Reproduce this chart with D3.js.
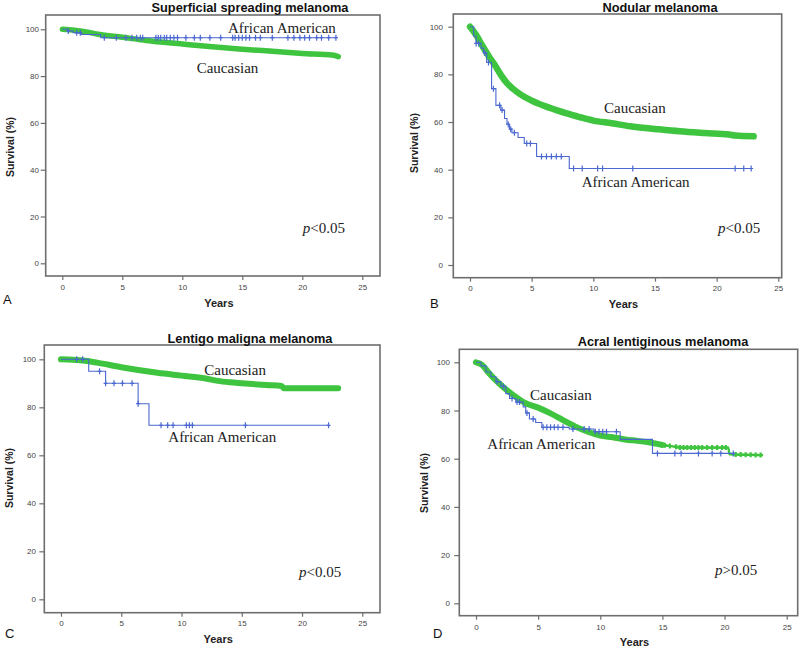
<!DOCTYPE html>
<html><head><meta charset="utf-8">
<script src="https://cdn.jsdelivr.net/npm/d3@7"></script>
<style>body{margin:0;background:#fff}svg{display:block}</style>
</head><body>
<svg id="c" width="800" height="649"></svg>
<script>
// ---------- DATA ----------
const panelTitles = ["Superficial spreading melanoma","Nodular melanoma","Lentigo maligna melanoma","Acral lentiginous melanoma"];
const panelLetters = ["A","B","C","D"];
const pValues = ["<0.05","<0.05","<0.05",">0.05"];
const xTicks = [0,5,10,15,20,25];
const yTicks = [0,20,40,60,80,100];

// Caucasian curves [years, survival %]
const ssmCaucasian = [[0,100],[1,99.6],[2,98.9],[3,97.9],[5,96.6],[7,95.2],[10,93.7],[12.5,92.5],[15,91.5],[17.5,90.6],[20,89.7],[22.5,89],[23,88.3]];
const nmCaucasian = [[0,100],[0.5,96.5],[1,92],[1.5,87.8],[2,84],[2.5,79.8],[3,76.3],[3.5,73.9],[4,71.9],[5,69],[6,66.8],[7,65],[8,63.4],[9,61.9],[10,60.6],[11.5,59.5],[13,58.2],[15,57.1],[17,56.1],[19,55.4],[21,54.8],[21.5,54.3],[23,54]];
const lmmCaucasian = [[0,100],[1,99.8],[2,99.4],[3,98.6],[5,96.7],[8,94.4],[10,93.2],[12,92],[13,91],[14,90.4],[15,90],[17,89.3],[18.3,88.9],[18.5,87.9],[23,87.9]];
const almCaucasian = [[0,100],[0.5,98.9],[1,95.8],[2,90.6],[3,86.4],[4,83],[5,81.2],[6,78.8],[7,76],[8,73.3],[9,71.2],[10,69.6],[11,68.9],[12,68],[13,67.4],[14,66.7],[15,65.7],[16,65],[16.5,64.6],[20.3,64.6],[20.4,61.8],[23,61.5]];

// African American step curves [years, survival %]
const ssmAfrican = [[0,100],[0.4,99.3],[0.9,98.5],[1.6,97.8],[3.2,96.4],[22.9,96.4]];
const nmAfrican = [[0,100],[0.3,96],[0.5,93],[0.9,91],[1.1,89],[1.35,85],[1.75,74],[2.1,67],[2.5,65],[2.8,61.5],[3.0,59],[3.2,57],[3.4,55.5],[3.9,53.5],[4.4,51],[5.4,45.5],[8.05,40.5],[22.9,40.5]];
const lmmAfrican = [[0,100],[2.3,95],[3.7,90],[6.4,81.5],[7.3,72.5],[22.2,72.5]];
const almAfrican = [[0,100],[0.4,98.5],[0.8,96],[1.2,94],[1.6,92],[2.0,90],[2.4,87],[2.7,85],[3.2,83.5],[3.8,81.5],[4.0,79],[4.3,76.5],[4.8,75],[5.3,73],[7.5,72.3],[9.5,71.2],[11.6,68],[14.2,62.2],[20.8,62.2]];

// African American censor times (years)
const ssmAfricanCensor = [0.5,1.2,1.5,3.5,4.5,5.3,5.8,6.2,6.5,6.7,7.8,8.0,8.2,8.5,8.7,9.0,9.3,9.6,10.3,11.0,11.5,12.3,13.2,14.2,14.4,14.7,15.0,15.3,15.6,16.1,16.5,17.5,18.8,19.3,19.8,20.2,20.6,21.2,21.6,22.2,22.8];
const nmAfricanCensor = [0.5,0.7,1.2,1.5,1.9,2.4,2.6,3.1,3.3,3.6,4.6,4.9,5.8,6.2,6.6,7.0,7.4,8.4,9.1,10.35,10.75,13.2,21.5,22.2,22.8];
const lmmAfricanCensor = [1.3,1.8,3.2,3.7,4.4,5.1,5.9,6.4,8.3,8.85,9.3,10.4,10.65,10.9,15.3,22.2];
const almAfricanCensor = [1.7,2.2,2.9,3.3,3.5,4.1,4.6,5.4,5.7,6.0,6.3,6.6,7.0,7.8,8.7,9.1,9.6,9.9,10.2,10.5,11.3,14.6,16.0,16.5,17.9,19.0,19.7,20.7];
// Caucasian censor marks visible in the sparse tail (ALM)
const almCaucasianCensor = [15.2,15.6,16.1,16.4,16.7,17.0,17.3,17.6,17.9,18.2,18.6,19.0,19.4,19.8,20.1,20.9,21.3,21.7,22.1,22.5,22.9];

// ---------- LAYOUT ----------
const panels = [
  {cau:ssmCaucasian, afr:ssmAfrican, cens:ssmAfricanCensor, ccens:[], thickTo:23, gw:5.5,
   frame:[45.7,15,380,276], xr:[62.3,362.3], yr:[263.3,29.3],
   title:[250,12], letter:[3,304], ylab:[14,147], xlabY:289.5, yearsY:306.5, ytEnd:39,
   cLab:[196.7,72.7], aLab:[228,33], pLab:[302.7,233]},
  {cau:nmCaucasian, afr:nmAfrican, cens:nmAfricanCensor, ccens:[], thickTo:23, gw:6.5,
   frame:[453.3,14,781.7,277.7], xr:[470,778.3], yr:[265,26.7],
   title:[660,11.5], letter:[430,308], ylab:[418,143], xlabY:291, yearsY:308, ytEnd:443,
   cLab:[604,113], aLab:[581.7,187], pLab:[718,233]},
  {cau:lmmCaucasian, afr:lmmAfrican, cens:lmmAfricanCensor, ccens:[], thickTo:23, gw:6,
   frame:[44.3,345,380,612.7], xr:[61,362.3], yr:[599.3,359.3],
   title:[250,343], letter:[5,638], ylab:[13,478], xlabY:626.5, yearsY:642.5, ytEnd:36,
   cLab:[204.3,375], aLab:[168.3,441.7], pLab:[299,576.7]},
  {cau:almCaucasian, afr:almAfrican, cens:almAfricanCensor, ccens:almCaucasianCensor, thickTo:15, gw:6,
   frame:[459.3,349.3,797.7,615.7], xr:[476,786.7], yr:[603.3,362.3],
   title:[663,345.5], letter:[433,638], ylab:[428,483], xlabY:630, yearsY:646, ytEnd:450,
   cLab:[530,400], aLab:[487.3,449.3], pLab:[715,575]}
];

const GREEN = "#3ec43e", BLUE = "#4a68d0", FRAME = "#6e6e6e", TICKTXT = "#444";
const SANS = "Arial, 'Liberation Sans', sans-serif";
const svg = d3.select("#c");

panels.forEach((p, i) => {
  const g = svg.append("g");
  const x = d3.scaleLinear().domain([0,25]).range(p.xr);
  const y = d3.scaleLinear().domain([0,100]).range(p.yr);
  const [fx0, fy0, fx1, fy1] = p.frame;

  // frame
  g.append("rect").attr("x",fx0).attr("y",fy0).attr("width",fx1-fx0).attr("height",fy1-fy0)
    .attr("fill","none").attr("stroke",FRAME).attr("stroke-width",1.6);

  // y axis
  const ya = g.append("g").attr("transform",`translate(${fx0},0)`)
    .call(d3.axisLeft(y).tickValues(yTicks).tickSize(5).tickPadding(fx0 - 5 - p.ytEnd));
  ya.select(".domain").remove();
  ya.selectAll("line").attr("stroke",FRAME).attr("stroke-width",1.2);
  ya.selectAll("text").attr("font-family",SANS).attr("font-size",8).attr("fill",TICKTXT);

  // x axis
  const xa = g.append("g").attr("transform",`translate(0,${fy1})`)
    .call(d3.axisBottom(x).tickValues(xTicks).tickSize(4).tickPadding(0));
  xa.select(".domain").remove();
  xa.selectAll("line").attr("stroke",FRAME).attr("stroke-width",1.2);
  xa.selectAll("text").attr("font-family",SANS).attr("font-size",8).attr("fill",TICKTXT)
    .attr("dy",null).attr("y", p.xlabY - fy1);

  // titles / labels
  g.append("text").attr("x",p.title[0]).attr("y",p.title[1]).attr("text-anchor","middle")
    .attr("font-family",SANS).attr("font-weight","bold").attr("font-size",12.8).attr("fill","#111")
    .text(panelTitles[i]);
  g.append("text").attr("x",(fx0+fx1)/2 + 6).attr("y",p.yearsY).attr("text-anchor","middle")
    .attr("font-family",SANS).attr("font-weight","bold").attr("font-size",11).attr("fill","#222")
    .text("Years");
  g.append("text").attr("transform",`translate(${p.ylab[0]},${p.ylab[1]}) rotate(-90)`).attr("text-anchor","middle")
    .attr("font-family",SANS).attr("font-weight","bold").attr("font-size",10.5).attr("fill","#222")
    .text("Survival (%)");
  g.append("text").attr("x",p.letter[0]).attr("y",p.letter[1])
    .attr("font-family",SANS).attr("font-size",13).attr("fill","#111")
    .text(panelLetters[i]);

  // Caucasian curve (thick where censoring is dense)
  const line = d3.line().x(d => x(d[0])).y(d => y(d[1])).curve(d3.curveMonotoneX);
  const thick = p.cau.filter(d => d[0] <= p.thickTo);
  if (p.thickTo < 23) {
    const thin = p.cau.filter(d => d[0] >= p.thickTo - 1);
    g.append("path").attr("d", line(thin)).attr("fill","none").attr("stroke",GREEN).attr("stroke-width",2.4);
    g.selectAll(null).data(p.ccens).join("path")
      .attr("d", t => {
        const px = x(t), py = y(interpVal(p.cau, t));
        return `M${px-2.5},${py}H${px+2.5}M${px},${py-2.5}V${py+2.5}`;
      })
      .attr("stroke",GREEN).attr("stroke-width",2.2);
  }
  g.append("path").attr("d", line(thick)).attr("fill","none").attr("stroke",GREEN)
    .attr("stroke-width",p.gw).attr("stroke-linejoin","round").attr("stroke-linecap","round");

  // African American step curve
  const step = d3.line().x(d => x(d[0])).y(d => y(d[1])).curve(d3.curveStepAfter);
  g.append("path").attr("d", step(p.afr)).attr("fill","none").attr("stroke",BLUE).attr("stroke-width",1.1);
  g.selectAll(null).data(p.cens).join("path")
    .attr("d", t => {
      const px = x(t), py = y(stepVal(p.afr, t));
      return `M${px-2},${py}H${px+2}M${px},${py-3}V${py+3}`;
    })
    .attr("stroke",BLUE).attr("stroke-width",1.2);

  // curve labels
  const serif = "'Times New Roman', 'Liberation Serif', 'DejaVu Serif', serif";
  g.append("text").attr("x",p.cLab[0]).attr("y",p.cLab[1]).attr("font-family",serif).attr("font-size",15).attr("fill","#222").text("Caucasian");
  g.append("text").attr("x",p.aLab[0]).attr("y",p.aLab[1]).attr("font-family",serif).attr("font-size",15).attr("fill","#222").text("African American");
  const pt = g.append("text").attr("x",p.pLab[0]).attr("y",p.pLab[1]).attr("font-family",serif).attr("font-size",15).attr("fill","#222");
  pt.append("tspan").attr("font-style","italic").text("p");
  pt.append("tspan").text(pValues[i]);
});

function stepVal(arr, t) {
  let v = arr[0][1];
  for (const d of arr) { if (d[0] <= t) v = d[1]; }
  return v;
}
function interpVal(arr, t) {
  for (let k = 1; k < arr.length; k++) {
    if (arr[k][0] >= t) {
      const a = arr[k-1], b = arr[k];
      const f = (t - a[0]) / ((b[0] - a[0]) || 1);
      return a[1] + f * (b[1] - a[1]);
    }
  }
  return arr[arr.length-1][1];
}
</script>
</body></html>
